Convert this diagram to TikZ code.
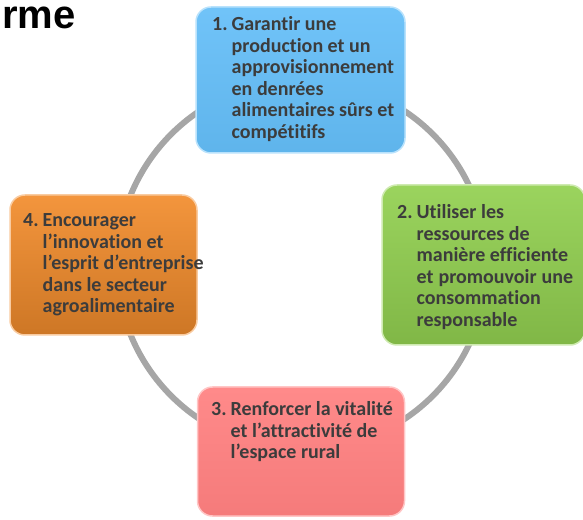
\documentclass[tikz,border=0pt]{standalone}
\usepackage{fontspec}
\setmainfont[Ligatures={NoCommon}]{Carlito}
\setsansfont{Liberation Sans}
\usepackage{xcolor}
\usetikzlibrary{positioning}
\definecolor{axeBlue}{HTML}{64BEF8}
\definecolor{axeGreen}{HTML}{92D050}
\definecolor{axeRed}{HTML}{FF8080}
\definecolor{axeOrange}{HTML}{F28C2C}
\definecolor{axeText}{HTML}{3C3C3C}
\definecolor{ringGray}{HTML}{A6A6A6}
\newcommand{\axelines}[2]{\begin{tabular}[t]{@{}l@{\hspace{4pt}}l@{}}#1 & #2\end{tabular}}

\begin{document}
\begin{tikzpicture}[x=1pt,y=1pt,
  axe/.style 2 args={rounded corners=15pt, draw=#1!45!white, line width=1.5pt,
    top color=#1!92!white, bottom color=#1!#2!black, inner sep=0pt},
  lbl/.style={anchor=base west, inner sep=0pt, text=axeText,
    font=\fontsize{20}{21.5}\selectfont\bfseries}]
  \useasboundingbox (0,0) rectangle (583,519);
  \clip (0,0) rectangle (583,519);
  % ring
  \draw[ringGray, line width=6pt] (302,254) circle[radius=185];
  % boxes
  \node[axe={axeBlue}{95}, minimum width=209pt, minimum height=146pt] (ax1) at (300.5,439) {};
  \node[axe={axeGreen}{88}, minimum width=203pt, minimum height=160pt] (ax2) at (483.5,254) {};
  \node[axe={axeRed}{96}, minimum width=207pt, minimum height=129pt] (ax3) at (301,67.5) {};
  \node[axe={axeOrange}{85}, minimum width=187pt, minimum height=140pt] (ax4) at (103.5,254) {};
  % texts
  \node[lbl] (t1) at (212,488) {\axelines{1.}{Garantir une\\ & production et un\\ & approvisionnement\\ & en denrées\\ & alimentaires sûrs et\\ & compétitifs}};
  \node[lbl] (t2) at (397,300) {\axelines{2.}{Utiliser les\\ & ressources de\\ & manière efficiente\\ & et\hspace{5pt}promouvoir\hspace{5pt}une\\ & consommation\\ & responsable}};
  \node[lbl] (t3) at (211,103) {\axelines{3.}{Renforcer la vitalité\\ & et l’attractivité de\\ & l’espace rural}};
  \node[lbl] (t4) at (23,292) {\axelines{4.}{Encourager\\ & l’innovation et\\ & l’esprit d’entreprise\\ & dans le secteur\\ & agroalimentaire}};
  % title
  \node[anchor=base east, inner sep=0pt, font=\sffamily\bfseries\fontsize{40}{44}\selectfont] (title) at (76,490) {rme};
\end{tikzpicture}
\end{document}
